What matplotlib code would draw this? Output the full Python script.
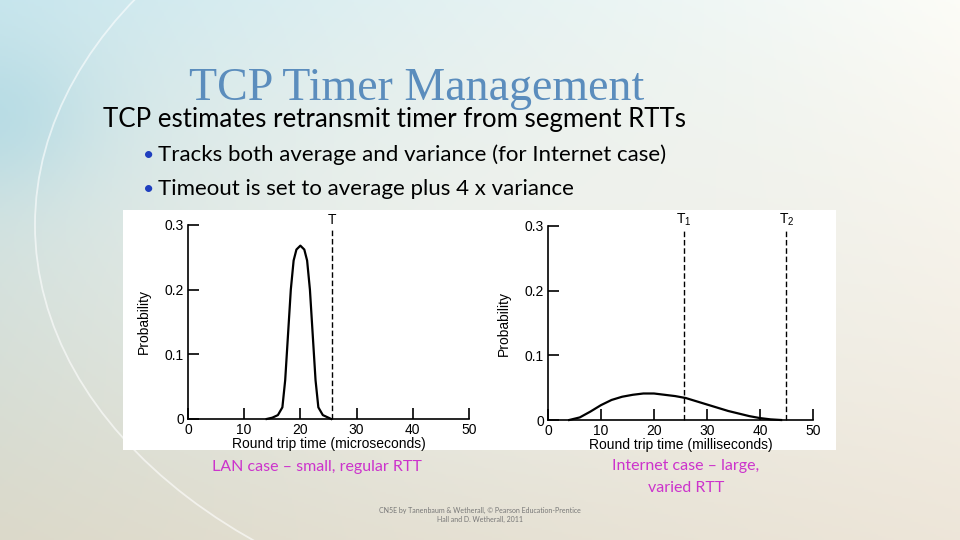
import matplotlib
matplotlib.use("Agg")
import matplotlib.pyplot as plt
import numpy as np
from matplotlib.patches import Rectangle, Arc

# LAN case: round trip time (microseconds) vs probability
lan_x = [14, 15, 16, 16.8, 17.3, 17.8, 18.3, 18.8, 19.3, 20, 20.7, 21.2, 21.7, 22.2, 22.7, 23.2, 24, 25, 25.5]
lan_y = [0, 0.002, 0.006, 0.018, 0.06, 0.13, 0.2, 0.245, 0.262, 0.268, 0.262, 0.245, 0.2, 0.13, 0.06, 0.018, 0.006, 0.002, 0]
lan_timeout = 25.6

# Internet case: round trip time (milliseconds) vs probability
net_x = [4, 6, 8, 10, 12, 14, 16, 18, 20, 22, 24, 26, 28, 30, 32, 34, 36, 38, 40, 42, 44]
net_y = [0, 0.004, 0.013, 0.023, 0.031, 0.036, 0.039, 0.041, 0.041, 0.039, 0.037, 0.034, 0.029,
         0.024, 0.019, 0.014, 0.010, 0.006, 0.003, 0.001, 0]
net_timeouts = [25.6, 45.0]
net_timeout_labels = ['T$_1$', 'T$_2$']

x_ticks = [0, 10, 20, 30, 40, 50]
y_ticks = [0, 0.1, 0.2, 0.3]
y_tick_labels = ['0', '0.1', '0.2', '0.3']

plt.rcParams['mathtext.default'] = 'regular'

fig = plt.figure(figsize=(9.6, 5.4), dpi=100)

# slide background
bg = fig.add_axes([0, 0, 1, 1], zorder=0)
bg.set_axis_off()
h, w = 270, 480
yy, xx = np.mgrid[0:1:h * 1j, 0:1:w * 1j]
top_left = np.array([0.78, 0.90, 0.93])
top_right = np.array([0.99, 0.99, 0.97])
bot_left = np.array([0.86, 0.85, 0.79])
bot_right = np.array([0.93, 0.90, 0.85])
img = (top_left * ((1 - xx) * (1 - yy))[..., None] + top_right * (xx * (1 - yy))[..., None]
       + bot_left * ((1 - xx) * yy)[..., None] + bot_right * (xx * yy)[..., None])
blue = np.exp(-((xx - 0.0) ** 2 / 0.01 + (yy - 0.22) ** 2 / 0.02))[..., None]
img = img * (1 - 0.35 * blue) + np.array([0.55, 0.80, 0.88]) * 0.35 * blue
centre = np.exp(-((xx - 0.5) ** 2 / 0.15 + (yy - 0.45) ** 2 / 0.15))[..., None]
img = img * (1 - 0.5 * centre) + np.array([0.97, 0.97, 0.95]) * 0.5 * centre
bg.imshow(np.clip(img, 0, 1), extent=[0, 960, 540, 0], aspect='auto')
bg.add_patch(Arc((640, 225), 1210, 820, theta1=100, theta2=260, color='white', lw=1.3, alpha=0.6))
bg.add_patch(Arc((480, 760), 1400, 1150, theta1=48, theta2=140, color='white', lw=1.2, alpha=0.6))
# white figure box
bg.add_patch(Rectangle((123, 210), 713, 240, facecolor='white', edgecolor='none'))
bg.set_xlim(0, 960)
bg.set_ylim(540, 0)

tick_font = dict(family='Liberation Sans', size=10)


def style(ax, xlabel):
    ax.set_xlim(0, 50)
    ax.set_ylim(0, 0.3)
    ax.set_facecolor('none')
    for s in ['top', 'right']:
        ax.spines[s].set_visible(False)
    for s in ['left', 'bottom']:
        ax.spines[s].set_linewidth(1.2)
    ax.set_xticks(x_ticks)
    ax.set_xticklabels([str(t) for t in x_ticks], fontdict=tick_font)
    ax.set_yticks(y_ticks)
    ax.set_yticklabels(y_tick_labels, fontdict=tick_font)
    ax.tick_params(direction='in', length=8, width=1.2, pad=3)
    ax.set_xlabel(xlabel, fontdict=tick_font, labelpad=0)
    ax.set_ylabel('Probability', fontdict=tick_font, labelpad=10)


ax1 = fig.add_axes([0.1958, 0.2241, 0.2927, 0.3593], zorder=2)
ax1.plot(lan_x, lan_y, color='black', lw=1.6, clip_on=False)
ax1.plot([lan_timeout, lan_timeout], [0, 0.292], color='black', lw=1.0, ls=(0, (4, 2)), clip_on=False)
ax1.text(lan_timeout, 0.297, 'T', ha='center', va='bottom', **tick_font)
style(ax1, 'Round trip time (microseconds)')

ax2 = fig.add_axes([0.5708, 0.2222, 0.2760, 0.3593], zorder=2)
ax2.plot(net_x, net_y, color='black', lw=1.6, clip_on=False)
for t, lab in zip(net_timeouts, net_timeout_labels):
    ax2.plot([t, t], [0, 0.292], color='black', lw=1.0, ls=(0, (4, 2)), clip_on=False)
    ax2.text(t, 0.297, lab, ha='center', va='bottom', **tick_font)
style(ax2, 'Round trip time (milliseconds)')

# slide text
fig.text(417 / 960, 1 - 100 / 540, 'TCP Timer Management', ha='center', va='baseline',
         family='Liberation Serif', size=33, color='#5b8dbd')
fig.text(103 / 960, 1 - 127 / 540, 'TCP estimates retransmit timer from segment RTTs', ha='left',
         va='baseline', family='Lato', size=18.6, color='black')
bullets = ['Tracks both average and variance (for Internet case)',
           'Timeout is set to average plus 4 x variance']
for i, b in enumerate(bullets):
    yb = 1 - (161 + 34 * i) / 540
    fig.text(143 / 960, yb, '\u2022', ha='left', va='baseline', family='Lato', size=14, color='#1f3fbf')
    fig.text(158 / 960, yb, b, ha='left', va='baseline', family='Lato', size=16, color='black')

fig.text(317 / 960, 1 - 471 / 540, 'LAN case \u2013 small, regular RTT', ha='center', va='baseline',
         family='Lato', size=11.5, color='#cc33cc')
fig.text(686 / 960, 1 - 470 / 540, 'Internet case \u2013 large,', ha='center', va='baseline',
         family='Lato', size=11.5, color='#cc33cc')
fig.text(686 / 960, 1 - 492 / 540, 'varied RTT', ha='center', va='baseline',
         family='Lato', size=11.5, color='#cc33cc')
fig.text(480 / 960, 1 - 513 / 540, 'CN5E by Tanenbaum & Wetherall, \u00a9 Pearson Education-Prentice',
         ha='center', va='baseline', family='Lato', size=5, color='#777777')
fig.text(480 / 960, 1 - 522 / 540, 'Hall and D. Wetherall, 2011', ha='center', va='baseline',
         family='Lato', size=5, color='#777777')

fig.savefig('out.png', dpi=100)
